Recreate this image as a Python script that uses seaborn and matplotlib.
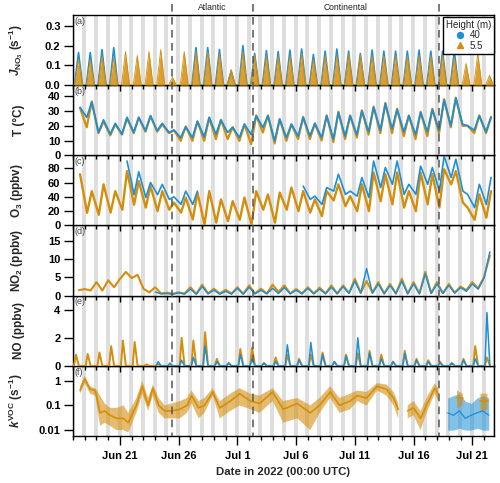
import numpy as np
import pandas as pd
import matplotlib
matplotlib.use("Agg")
import matplotlib.pyplot as plt
import matplotlib.dates as mdates
import matplotlib.ticker as mticker
import matplotlib.transforms as mtransforms
from matplotlib.lines import Line2D
import seaborn as sns

nan = np.nan

# ---- data ----
# day index 0 = 17 Jun 2022 00:00 UTC
days = np.arange(36)

# J_NO3 daily peak (s-1)
j40_peak = [0.165, 0.165, 0.18, 0.19, nan, nan, nan, nan, nan, nan, 0.19, 0.19, 0.18, 0.07, 0.20, 0.16, 0.175, 0.17,
            0.177, 0.183, 0.155, 0.172, 0.183, 0.172, 0.16, 0.177, 0.172, 0.172, 0.172, 0.177, 0.172, 0.172, 0.172, nan, nan, nan]
j55_peak = [0.13, 0.13, 0.15, 0.14, 0.17, 0.15, 0.17, 0.18, 0.04, 0.17, 0.17, 0.17, 0.16, 0.08, 0.17, 0.15, 0.15, 0.15,
            0.15, 0.16, 0.13, 0.15, 0.15, 0.16, 0.155, 0.15, 0.15, 0.15, 0.15, 0.15, 0.15, 0.15, 0.14, 0.11, 0.16, 0.05]

# temperature, early-morning minimum and afternoon maximum (degC)
t40_min = [nan, 25.7, 15.5, 14.3, 14.3, 15.5, 16.6, 16.6, 15.5, 12.0, 12.0, 12.5, 14.3, 15.5, 12.0, 14.0, 18.9, 9.8,
           12.0, 13.0, 13.2, 12.0, 11.0, 13.0, 14.0, 16.0, 17.0, 18.0, 16.0, 14.0, 16.0, 17.0, 20.0, 21.0, 17.0, 16.0]
t40_max = [32.5, 36.0, 24.0, 21.6, 25.7, 25.7, 26.8, 21.6, 17.0, 19.3, 23.0, 25.7, 23.9, 18.9, 21.0, 26.8, 26.8, 24.5,
           21.0, 25.7, 21.6, 26.8, 29.0, 26.8, 30.0, 32.5, 35.0, 31.0, 26.8, 29.0, 31.0, 37.5, 38.9, 20.0, 26.8, 25.7]
t55_min = [nan, 19.0, 15.0, 13.5, 14.0, 15.0, 16.0, 16.0, 15.0, 9.8, 9.8, 9.8, 11.0, 11.0, 9.8, 7.5, 15.5, 8.0,
           9.8, 11.0, 11.0, 10.0, 9.0, 11.0, 12.0, 14.0, 15.0, 15.0, 13.0, 11.0, 13.0, 15.0, 19.0, 20.0, 15.0, 15.0]
t55_max = [32.0, 36.5, 23.0, 21.0, 25.0, 25.5, 26.5, 21.0, 17.0, 19.5, 23.0, 25.5, 24.0, 19.0, 21.0, 27.0, 27.0, 24.5,
           21.0, 26.0, 21.5, 27.0, 29.5, 27.0, 30.5, 33.0, 35.5, 31.5, 27.0, 29.5, 31.5, 38.0, 39.0, 20.0, 27.0, 26.0]

# ozone (ppbv)
o3_55_min = [nan, 17.8, 15, 18, 22, 29, 25, 20, 22, 18, 8.4, 1.4, 4, 6, 8, 1.4, 22, 4,
             22, 20, 18, 13, 35, 27, 20, 20, 34, 29.5, 25, 20, 29.5, 25, 57.5, 32, 8, 11]
o3_55_max = [71.6, 48, 57.5, 48, 76, 62, 55, 48, 32, 39, 46, 48, 36.5, 34, 39, 48, 43.5, 46,
             53, 48, 36.5, 48, 57.5, 41, 57.5, 74, 71.6, 74, 48, 74, 71.6, 78.6, 76, 25, 43.5, 48]
o3_40_min = [nan, nan, nan, nan, nan, 43, 39, 43, 36.5, 29.5, 29.5, nan, nan, nan, nan, nan, nan, nan,
             nan, nan, 36.5, 29.5, 48, 43.5, 41, 39, 53, 57.5, 43.5, 43.5, 57.5, 48, 67, 48, 25, 29.5]
o3_40_max = [nan, nan, nan, nan, 90, 75, 60, 57.5, 40, 48, 48, nan, nan, nan, nan, nan, nan, nan,
             nan, 55, 41, 53, 71.6, 48, 67, 90, 81, 90, 57.5, 83, 81, 97, 92.6, 43.5, 57.5, 67]

# NO2 (ppbv), night value and midday value
no2_55_night = [nan, 1.8, 3.7, 4.2, 4.6, 4.8, 1.9, 2.3, 0.8, 0.9, 2.3, 3.0, 1.9, 1.6, 2.3, 2.8, 1.9, 3.0,
                2.8, 1.8, 2.3, 2.2, 2.8, 2.8, 4.6, 4.0, 3.7, 3.2, 4.6, 3.7, 6.5, 3.7, 3.2, 2.5, 3.7, 5.1]
no2_55_day = [1.5, 1.4, 1.4, 2.3, 6.5, 5.7, 0.9, 0.6, 0.5, 0.6, 0.5, 0.6, 0.6, 0.6, 0.5, 0.6, 0.6, 1.0,
              0.6, 0.6, 0.6, 0.6, 0.6, 0.7, 0.8, 0.8, 0.6, 0.6, 0.6, 0.6, 0.7, 0.7, 0.8, 1.5, 2.0, 11.0]
no2_40_night = [nan, nan, nan, nan, nan, nan, nan, 1.0, 0.6, 0.8, 1.8, 2.5, 1.5, 1.2, 2.0, 2.3, 1.5, 2.0,
                2.2, 1.5, 2.0, 1.8, 2.3, 2.5, 4.0, 7.4, 3.2, 2.8, 4.0, 3.2, 6.0, 3.2, 2.8, 2.2, 3.2, 4.8]
no2_40_day = [nan, nan, nan, nan, nan, nan, nan, 0.5, 0.4, 0.4, 0.4, 0.5, 0.4, 0.4, 0.4, 0.5, 0.5, 0.6,
              0.5, 0.5, 0.5, 0.5, 0.5, 0.6, 0.7, 0.7, 0.5, 0.5, 0.5, 0.5, 0.6, 0.6, 0.7, 1.2, 1.8, 12.0]

# NO morning peak (ppbv)
no_55_peak = [0.8, 0.85, 0.95, 1.4, 1.8, 1.7, 0.1, 0.1, 0.05, 2.0, 1.8, 2.4, 0.5, 0.2, 1.2, 1.3, 0.2, 0.6,
              0.8, 0.5, 0.8, 0.95, 0.3, 0.8, 0.9, 1.07, 0.8, 0.3, 1.07, 0.5, 0.4, 0.3, 0.2, 0.5, 1.4, 0.6]
no_40_peak = [nan, nan, nan, nan, nan, nan, nan, 0.3, 0.2, 0.4, 0.6, 1.4, 0.3, 0.2, 0.8, 0.5, 0.2, 0.3,
              1.5, 0.4, 1.67, 0.8, 0.3, 0.7, 2.0, 0.9, 0.5, 0.3, 0.9, 0.4, 0.3, 0.2, 0.2, 0.4, 0.5, 3.8]

# kVOC (s-1): time (day), typical value, lower and upper edge of the scatter
k55_t = [0.6, 1.0, 1.45, 1.9, 2.3, 2.7, 3.15, 3.7, 4.3, 4.7, 5.4, 5.9, 6.4, 6.8, 7.3, 7.8, 8.4, 9.1, 9.7, 10.1,
         10.7, 11.2, 11.9, 12.5, 13.4, 14.2, 15.1, 15.9, 17.0, 17.9, 19.1, 20.2, 21.0, 21.9, 22.7, 23.6, 24.2,
         25.0, 25.9, 26.7, 27.3, 27.7, 28.1, 28.5, 29.0, 29.6, 30.1, 30.8, 31.1, 31.5, 32.7, 33.2, 33.6, 34.7, 35.3]
k55_mid = [0.4, 1.2, 0.45, 0.4, 0.05, 0.06, 0.04, 0.03, 0.03, 0.02, 0.1, 0.6, 0.1, 0.5, 0.1, 0.06, 0.06, 0.07, 0.1,
           0.25, 0.08, 0.1, 0.35, 0.08, 0.15, 0.3, 0.15, 0.12, 0.35, 0.07, 0.12, 0.05, 0.1, 0.35, 0.1, 0.15, 0.25,
           0.2, 0.6, 0.45, 0.2, 0.07, nan, 0.06, 0.08, 0.03, 0.1, 0.5, 0.3, nan, 0.2, 0.2, nan, 0.15, 0.15]
k55_lo = [0.3, 0.8, 0.3, 0.25, 0.015, 0.02, 0.015, 0.01, 0.01, 0.008, 0.05, 0.3, 0.06, 0.25, 0.05, 0.03, 0.03, 0.03,
          0.05, 0.12, 0.03, 0.05, 0.25, 0.03, 0.06, 0.1, 0.07, 0.05, 0.15, 0.02, 0.03, 0.01, 0.05, 0.2, 0.05, 0.07,
          0.15, 0.1, 0.4, 0.25, 0.1, 0.03, nan, 0.03, 0.04, 0.01, 0.05, 0.3, 0.15, nan, 0.08, 0.1, nan, 0.05, 0.07]
k55_hi = [0.6, 1.6, 0.6, 0.5, 0.25, 0.12, 0.08, 0.08, 0.1, 0.05, 0.2, 1.0, 0.2, 0.7, 0.2, 0.1, 0.12, 0.15, 0.2,
          0.4, 0.15, 0.2, 0.5, 0.15, 0.3, 0.5, 0.3, 0.25, 0.5, 0.15, 0.2, 0.1, 0.2, 0.6, 0.2, 0.3, 0.4, 0.35, 0.8,
          0.7, 0.35, 0.12, nan, 0.1, 0.15, 0.06, 0.2, 0.8, 0.5, nan, 0.4, 0.3, nan, 0.3, 0.3]
k40_t = [31.9, 32.4, 32.9, 33.4, 33.9, 34.4, 34.9, 35.4]
k40_mid = [0.05, 0.04, 0.06, 0.03, 0.04, 0.05, 0.06, 0.04]
k40_lo = [0.01, 0.01, 0.012, 0.01, 0.01, 0.012, 0.01, 0.01]
k40_hi = [0.2, 0.25, 0.3, 0.15, 0.12, 0.2, 0.25, 0.2]

period_bounds = [8.46, 15.33, 31.15]
period_names = ["Atlantic", "Continental"]

blue = "#1c8fd6"
orange = "#d48e0c"

# ---- style ----
sns.set_theme(style="ticks")
plt.rcParams["font.family"] = ["Liberation Sans", "DejaVu Sans"]
plt.rcParams["font.weight"] = "bold"
plt.rcParams["axes.labelweight"] = "bold"
plt.rcParams["mathtext.fontset"] = "custom"
plt.rcParams["mathtext.rm"] = "Liberation Sans:bold"
plt.rcParams["mathtext.it"] = "Liberation Sans:italic:bold"
plt.rcParams["mathtext.bf"] = "Liberation Sans:bold"
plt.rcParams["axes.edgecolor"] = "black"
plt.rcParams["axes.linewidth"] = 1.0
plt.rcParams["xtick.color"] = "black"
plt.rcParams["ytick.color"] = "black"

base = mdates.date2num(np.datetime64("2022-06-17T00:00"))
d = days.astype(float)


def interleave(times, values):
    t = np.column_stack(times).ravel()
    y = np.column_stack(values).ravel()
    return t, y


def draw_line(ax, t, y, color, lw):
    df = pd.DataFrame({"t": base + np.asarray(t), "y": np.asarray(y, dtype=float)})
    df["seg"] = df["y"].isna().cumsum()
    df = df.dropna()
    sns.lineplot(data=df, x="t", y="y", units="seg", estimator=None, color=color,
                 linewidth=lw, ax=ax, legend=False, zorder=3)


def zeros_like(p):
    p = np.asarray(p, dtype=float)
    return np.where(np.isnan(p), nan, 0.0)


fig, axes = plt.subplots(6, 1, figsize=(5, 4.83), dpi=100, sharex=True)
fig.subplots_adjust(left=0.146, right=0.988, top=0.969, bottom=0.0973, hspace=0)

for i, ax in enumerate(axes):
    ax.set_zorder(10 - i)
    for n in range(-1, 36):
        ax.axvspan(base + n + 0.79, base + n + 1.13, color="#dedede", lw=0, zorder=0)

# (a) J_NO3
ax = axes[0]
tj, yj40 = interleave([d + 0.13, d + 0.47, d + 0.81], [zeros_like(j40_peak), j40_peak, zeros_like(j40_peak)])
tj, yj55 = interleave([d + 0.13, d + 0.47, d + 0.81], [zeros_like(j55_peak), j55_peak, zeros_like(j55_peak)])
draw_line(ax, tj, yj40, blue, 1.2)
ax.fill_between(base + tj, 0, yj55, color=orange, alpha=0.85, lw=0, zorder=4)
draw_line(ax, tj, yj55, orange, 0.6)
ax.set_ylim(0, 0.355)
ax.set_yticks([0, 0.1, 0.2, 0.3])
ax.yaxis.set_major_formatter(mticker.FormatStrFormatter("%.1f"))
ax.set_ylabel(r"$J_{\rm NO_3}$ (s$^{-1}$)")

# (b) temperature
ax = axes[1]
tt, y55 = interleave([d + 0.17, d + 0.6], [t55_min, t55_max])
tt, y40 = interleave([d + 0.17, d + 0.6], [t40_min, t40_max])
draw_line(ax, tt, y55, orange, 1.6)
draw_line(ax, tt, y40, blue, 1.3)
ax.set_ylim(0, 47.5)
ax.set_yticks([0, 10, 20, 30, 40])
ax.set_ylabel("T (°C)")

# (c) ozone
ax = axes[2]
to, y55 = interleave([d + 0.2, d + 0.6], [o3_55_min, o3_55_max])
to, y40 = interleave([d + 0.2, d + 0.6], [o3_40_min, o3_40_max])
draw_line(ax, to, y55, orange, 1.7)
draw_line(ax, to, y40, blue, 1.2)
ax.set_ylim(0, 98)
ax.set_yticks([0, 20, 40, 60, 80])
ax.set_ylabel(r"O$_3$ (ppbv)")

# (d) NO2
ax = axes[3]
tn, y55 = interleave([d, d + 0.5], [no2_55_night, no2_55_day])
tn, y40 = interleave([d, d + 0.5], [no2_40_night, no2_40_day])
draw_line(ax, tn, y55, orange, 1.5)
draw_line(ax, tn, y40, blue, 1.1)
ax.set_ylim(0, 19.2)
ax.set_yticks([0, 5, 10, 15])
ax.set_ylabel(r"NO$_2$ (ppbv)")

# (e) NO
ax = axes[4]
tm, y55 = interleave([d + 0.08, d + 0.25, d + 0.5], [zeros_like(no_55_peak), no_55_peak, zeros_like(no_55_peak)])
tm, y40 = interleave([d + 0.08, d + 0.25, d + 0.5], [zeros_like(no_40_peak), no_40_peak, zeros_like(no_40_peak)])
draw_line(ax, tm, y55, orange, 1.4)
draw_line(ax, tm, y40, blue, 1.1)
ax.set_ylim(0, 5)
ax.set_yticks([0, 2, 4])
ax.set_ylabel("NO (ppbv)")

# (f) kVOC
ax = axes[5]
ax.set_yscale("log")
ax.fill_between(base + np.array(k40_t), k40_lo, k40_hi, color=blue, alpha=0.55, lw=0, zorder=2)
ax.fill_between(base + np.array(k55_t), k55_lo, k55_hi, color=orange, alpha=0.6, lw=0, zorder=2)
draw_line(ax, k55_t, k55_mid, orange, 1.2)
draw_line(ax, k40_t, k40_mid, blue, 0.9)
ax.set_ylim(0.0058, 4)
ax.yaxis.set_major_locator(mticker.FixedLocator([0.01, 0.1, 1]))
ax.yaxis.set_major_formatter(mticker.FixedFormatter(["0.01", "0.1", "1"]))
ax.yaxis.set_minor_locator(mticker.NullLocator())
ax.set_ylabel(r"$k^{\rm VOC}$ (s$^{-1}$)")

# shared x axis
axes[0].set_xlim(base, base + 35.85)
axes[0].xaxis.set_major_locator(mdates.DayLocator(bymonthday=[1, 6, 11, 16, 21, 26]))
axes[0].xaxis.set_minor_locator(mdates.DayLocator())
axes[0].xaxis.set_major_formatter(mdates.DateFormatter("%b %-d"))

letters = ["(a)", "(b)", "(c)", "(d)", "(e)", "(f)"]
for i, ax in enumerate(axes):
    ax.set_xlabel("")
    ax.yaxis.label.set_size(8.5)
    ax.yaxis.set_label_coords(-0.113, 0.5)
    ax.tick_params(axis="y", which="major", direction="out", length=6.5, width=1, labelsize=8, pad=2.5)
    if i < 5:
        ax.tick_params(axis="x", which="major", direction="out", length=4.5, width=1, labelbottom=False)
        ax.tick_params(axis="x", which="minor", direction="out", length=3, width=1)
    else:
        ax.tick_params(axis="x", which="major", direction="out", length=6.5, width=1, labelsize=8, pad=4.5)
        ax.tick_params(axis="x", which="minor", direction="out", length=3.1, width=1)
    for s in ax.spines.values():
        s.set_visible(True)
        s.set_color("black")
    ax.text(0.004, 0.975, letters[i], transform=ax.transAxes, ha="left", va="top",
            fontsize=6.5, color="#444444", fontweight="normal", zorder=6)

axes[5].set_xlabel("Date in 2022 (00:00 UTC)", fontsize=8.2, fontweight="bold", labelpad=4)

# legend
handles = [Line2D([], [], marker="o", ls="", color=blue, ms=4.3),
           Line2D([], [], marker="^", ls="", color=orange, ms=4.8)]
leg = axes[0].legend(handles, ["40", "5.5"], title="Height (m)", loc="upper right",
                     bbox_to_anchor=(1.0, 0.975), borderaxespad=0, frameon=True, fancybox=False,
                     framealpha=1, edgecolor="black", prop={"size": 7, "weight": "normal"},
                     title_fontproperties={"size": 7, "weight": "normal"},
                     borderpad=0.3, labelspacing=0.05, handletextpad=0.3, handlelength=1.3)
leg.get_frame().set_linewidth(1.0)

# period boundaries
trans = mtransforms.blended_transform_factory(axes[0].transData, fig.transFigure)
for x in period_bounds:
    fig.add_artist(Line2D([base + x, base + x], [1 - 4 / 483, 0.0973], transform=trans,
                          color="#555555", lw=1.1, dashes=(5, 3.5), zorder=30))
for k, name in enumerate(period_names):
    xm = base + (period_bounds[k] + period_bounds[k + 1]) / 2
    fig.text(xm, 1 - 8 / 483, name, transform=trans, ha="center", va="center",
             fontsize=6.2, fontweight="normal", color="#222222")

fig.savefig("out.png", dpi=100)
